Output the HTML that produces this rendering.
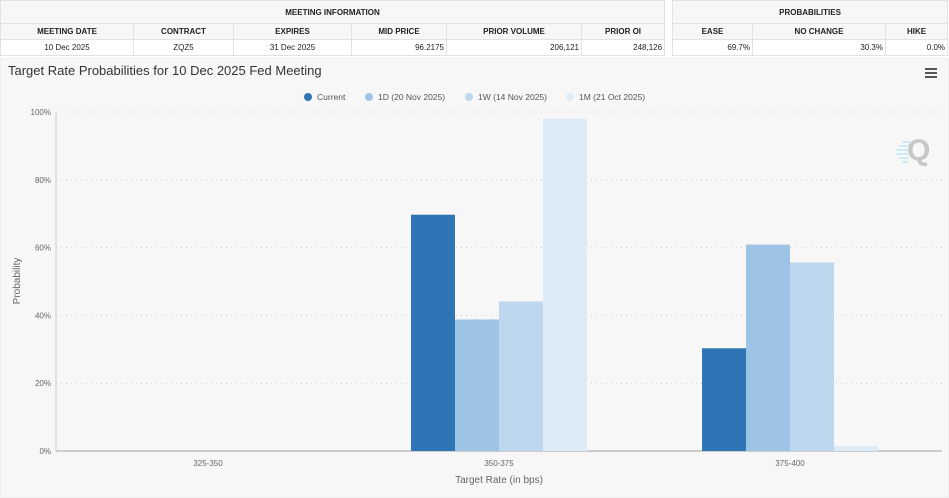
<!DOCTYPE html>
<html><head><meta charset="utf-8"><style>
body{margin:0;width:949px;height:498px;background:#fff;font-family:"Liberation Sans",sans-serif;position:relative;overflow:hidden}
table{position:absolute;border-collapse:collapse;font-size:8px;color:#222;table-layout:fixed}
td{border:1px solid #e2e2e2;height:15px;padding:0 2px;text-align:center}
.h td{font-weight:bold;background:#f7f7f7}
.r{text-align:right}
#panel{position:absolute;left:0;top:58px;width:947px;height:438px;background:#f7f7f7;border:1px solid #eee}
</style></head><body>
<table style="left:0;top:0;width:664px">
<colgroup><col style="width:133px"><col style="width:100px"><col style="width:118px"><col style="width:95px"><col style="width:135px"><col style="width:83px"></colgroup>
<tr class="h"><td colspan="6" style="height:22px">MEETING INFORMATION</td></tr>
<tr class="h"><td>MEETING DATE</td><td>CONTRACT</td><td>EXPIRES</td><td>MID PRICE</td><td>PRIOR VOLUME</td><td>PRIOR OI</td></tr>
<tr style="background:#fff"><td>10 Dec 2025</td><td>ZQZ5</td><td>31 Dec 2025</td><td class="r">96.2175</td><td class="r">206,121</td><td class="r">248,126</td></tr>
</table>
<table style="left:672px;top:0;width:275px">
<colgroup><col style="width:80px"><col style="width:133px"><col style="width:62px"></colgroup>
<tr class="h"><td colspan="3" style="height:22px">PROBABILITIES</td></tr>
<tr class="h"><td>EASE</td><td>NO CHANGE</td><td>HIKE</td></tr>
<tr><td class="r">69.7%</td><td class="r">30.3%</td><td class="r">0.0%</td></tr>
</table>
<div id="panel"></div>
<svg id="c" width="949" height="498" style="position:absolute;left:0;top:0" font-family="Liberation Sans, sans-serif">
<text x="8" y="75" font-size="13" fill="#333">Target Rate Probabilities for 10 Dec 2025 Fed Meeting</text>
<g fill="#555"><rect x="925" y="68" width="12" height="2"/><rect x="925" y="72" width="12" height="2"/><rect x="925" y="76" width="12" height="2"/></g>
<g><text x="907" y="160" font-size="30" font-weight="bold" fill="#c8c8c8">Q</text>
<path d="M896 150h12M899 146h10M902 142h8M896 154h12M899 158h9M902 162h6" stroke="#bfe6f7" stroke-width="1.5"/></g>
<g id="grid"></g><g id="bars"></g><g id="axes"></g><g id="legend"></g>
<text transform="translate(20,281) rotate(-90)" text-anchor="middle" font-size="10" fill="#666">Probability</text>
<text x="499" y="483" text-anchor="middle" font-size="10" fill="#666">Target Rate (in bps)</text>
</svg>
<script>
const categories=["325-350","350-375","375-400"];
const seriesNames=["Current","1D (20 Nov 2025)","1W (14 Nov 2025)","1M (21 Oct 2025)"];
const current=[0,69.7,30.3];
const d1=[0,38.8,60.9];
const w1=[0,44.1,55.6];
const m1=[0,98.0,1.5];
const yTicks=[0,20,40,60,80,100];
const series=[current,d1,w1,m1];
const colors=["#2e75b6","#9dc3e6","#bdd7ee","#ddebf7"];
const NS="http://www.w3.org/2000/svg";
const ax0=56,ax1=942,x0=62.5,x1=935.5,yb=451,yt=112;
const y=v=>yb-(v/100)*(yb-yt);
const bw=(x1-x0)/categories.length;
const xc=i=>x0+bw*(i+0.5);
function mk(t,a,p){const e=document.createElementNS(NS,t);for(const k in a)e.setAttribute(k,a[k]);document.getElementById(p).appendChild(e);return e;}
yTicks.forEach(t=>{
 const l=mk('line',{x1:ax0,x2:ax1,y1:y(t),y2:y(t),stroke:'#ccc','stroke-dasharray':t?'1,4':'none','stroke-width':t?1:2},'grid');
 
 
 const tx=mk('text',{x:ax0-5,y:y(t)+3,'text-anchor':'end','font-size':8,fill:'#666'},'axes');tx.textContent=t+'%';
 
 
});
const ax=mk('line',{x1:ax0,x2:ax0,y1:yt,y2:yb,stroke:'#ccc'},'axes');


const barW=44;
categories.forEach((c,i)=>{
 const tx=mk('text',{x:xc(i),y:466,'text-anchor':'middle','font-size':8,fill:'#666'},'axes');tx.textContent=c;
 
 
 series.forEach((s,j)=>{
  const v=s[i];
  const r=mk('rect',{x:xc(i)-2*barW+j*barW,y:y(v),width:barW,height:yb-y(v),fill:colors[j]},'bars');
  
  
 });
});
let lx=[304,365,465,566];
seriesNames.forEach((n,j)=>{
 const g=mk('g',{},'legend');
 
 
 const ci=document.createElementNS(NS,'circle');ci.setAttribute('cx',lx[j]+4);ci.setAttribute('cy',97);ci.setAttribute('r',4);ci.setAttribute('fill',colors[j]);g.appendChild(ci);
 const t=document.createElementNS(NS,'text');t.setAttribute('x',lx[j]+13);t.setAttribute('y',100);t.setAttribute('font-size',8.5);t.setAttribute('fill','#555');t.textContent=n;g.appendChild(t);
});
</script>
</body></html>
